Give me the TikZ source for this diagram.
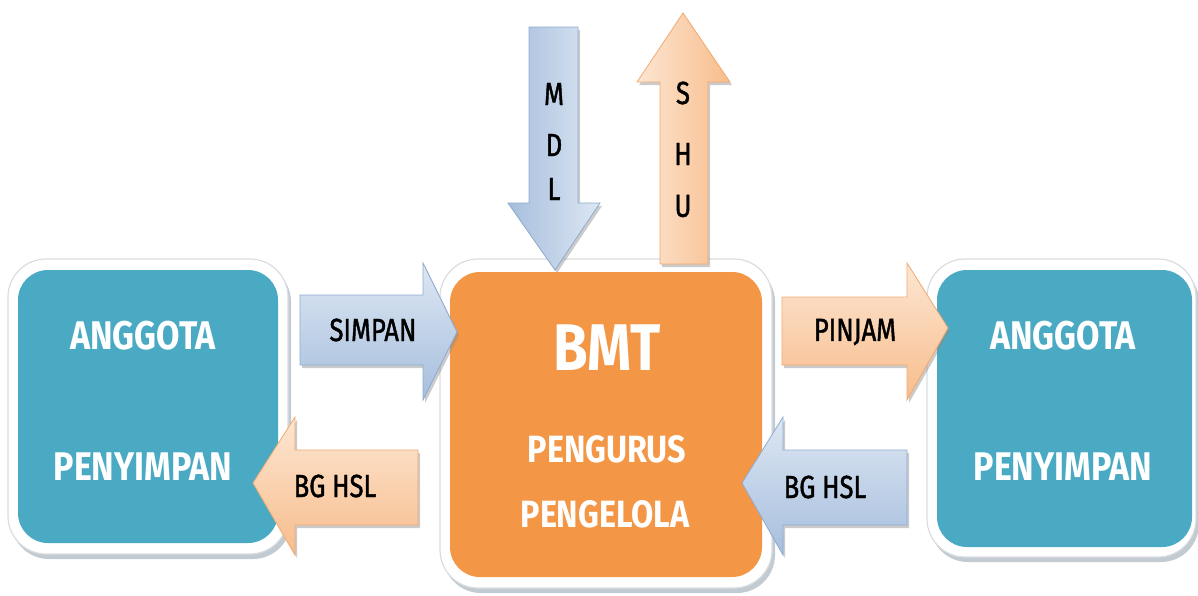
\documentclass[tikz,border=0pt]{standalone}
\usepackage{fontspec}
\newfontfamily\boxfont[FakeStretch=0.85]{Fira Sans}
\newfontfamily\labfont[FakeStretch=0.80,FakeBold=1.3]{Fira Sans}
\usetikzlibrary{shadows,backgrounds}
\definecolor{teal1}{HTML}{4AAAC4}
\definecolor{orange1}{HTML}{F39646}
\definecolor{bluelt}{HTML}{DDE7F3}
\definecolor{bluedk}{HTML}{A6BEDD}
\definecolor{bluestroke}{HTML}{8FAAD0}
\definecolor{peachlt}{HTML}{FDE6D2}
\definecolor{peachdk}{HTML}{F7BD8C}
\definecolor{peachstroke}{HTML}{F0AA72}
\definecolor{framegray}{HTML}{DADDE0}
\definecolor{shadowgray}{HTML}{9AA8B2}
\tikzset{
  mainbox/.style={rectangle, rounded corners=30pt, inner sep=0pt},
  boxframe/.style={fill=white, draw=framegray, line width=1.2pt, rounded corners=38pt,
    drop shadow={shadow xshift=3pt, shadow yshift=-5pt, fill=shadowgray, opacity=.6}},
  bluearrow/.style={top color=bluelt, bottom color=bluedk, draw=bluestroke, line width=0.8pt,
    drop shadow={shadow xshift=2pt, shadow yshift=-3pt, fill=black!45, opacity=.45}},
  peacharrow/.style={top color=peachlt, bottom color=peachdk, draw=peachstroke, line width=0.8pt,
    drop shadow={shadow xshift=2pt, shadow yshift=-3pt, fill=black!45, opacity=.45}},
  bluevarrow/.style={left color=bluedk, right color=bluelt, draw=bluestroke, line width=0.8pt,
    drop shadow={shadow xshift=2pt, shadow yshift=-3pt, fill=black!45, opacity=.45}},
  peachvarrow/.style={left color=peachlt, right color=peachdk, draw=peachstroke, line width=0.8pt,
    drop shadow={shadow xshift=2pt, shadow yshift=-3pt, fill=black!45, opacity=.45}},
  whitetext/.style={text=white, font=\boxfont\bfseries\fontsize{40}{40}\selectfont, inner sep=0pt},
  bigtext/.style={text=white, font=\boxfont\bfseries\fontsize{66}{66}\selectfont, inner sep=0pt},
  midtext/.style={text=white, font=\boxfont\bfseries\fontsize{38}{38}\selectfont, inner sep=0pt},
  arrowtext/.style={text=black, font=\labfont\fontsize{32}{32}\selectfont, inner sep=0pt},
  lettertext/.style={text=black, font=\labfont\fontsize{32}{32}\selectfont, inner sep=0pt},
}
\begin{document}
\begin{tikzpicture}[x=1pt,y=-1pt]
\useasboundingbox (0,0) rectangle (1198,595);

% frames
\draw[boxframe] (8,259) rectangle (288,554);
\draw[boxframe] (440,259) rectangle (772,588);
\draw[boxframe] (927,259) rectangle (1196,557);

% main boxes
\node[mainbox, fill=teal1, minimum width=260pt, minimum height=273pt] (lbox) at (148,406.5) {};
\node[mainbox, fill=orange1, minimum width=312pt, minimum height=305pt] (bmt) at (606,424.5) {};
\node[mainbox, fill=teal1, minimum width=255pt, minimum height=277pt] (rbox) at (1064.5,408.5) {};

% box texts
\node[whitetext] (la) at (143,336) {ANGGOTA};
\node[whitetext] (lp) at (143,467) {PENYIMPAN};
\node[bigtext] (bmtt) at (607,348) {BMT};
\node[midtext] (peng) at (607,449) {PENGURUS};
\node[midtext] (pengl) at (605,514) {PENGELOLA};
\node[whitetext] (ra) at (1063,336) {ANGGOTA};
\node[whitetext] (rp) at (1063,467) {PENYIMPAN};

% MDL arrow (down into BMT)
\draw[bluevarrow] (529,27) -- (578,27) -- (578,203) -- (600,203) -- (555,270) -- (508,203) -- (529,203) -- cycle;
\node[lettertext] (m) at (554,94) {M};
\node[lettertext] (d) at (554,145) {D};
\node[lettertext] (l) at (554,189) {L};

% SHU arrow (up)
\draw[peachvarrow] (660,264) -- (660,82) -- (637,82) -- (683,13) -- (730,82) -- (708,82) -- (708,264) -- cycle;
\node[lettertext] (s) at (683,93) {S};
\node[lettertext] (h) at (683,154) {H};
\node[lettertext] (u) at (683,206) {U};

% SIMPAN arrow
\draw[bluearrow] (300,295) -- (423,295) -- (423,263) -- (457,332) -- (423,400) -- (423,365) -- (300,365) -- cycle;
\node[arrowtext] (simpan) at (373,330) {SIMPAN};

% BG HSL left arrow
\draw[peacharrow] (253,483) -- (295,417) -- (295,450) -- (418,450) -- (418,525) -- (295,525) -- (295,555) -- cycle;
\node[arrowtext] (bgl) at (335,486) {BG HSL};

% PINJAM arrow
\draw[peacharrow] (782,297) -- (907,297) -- (907,263) -- (948,328) -- (907,400) -- (907,365) -- (782,365) -- cycle;
\node[arrowtext] (pinjam) at (855,332) {PINJAM};

% BG HSL right arrow
\draw[bluearrow] (742,483) -- (783,417) -- (783,450) -- (907,450) -- (907,525) -- (783,525) -- (783,555) -- cycle;
\node[arrowtext] (bgr) at (825,487) {BG HSL};
\end{tikzpicture}
\end{document}
